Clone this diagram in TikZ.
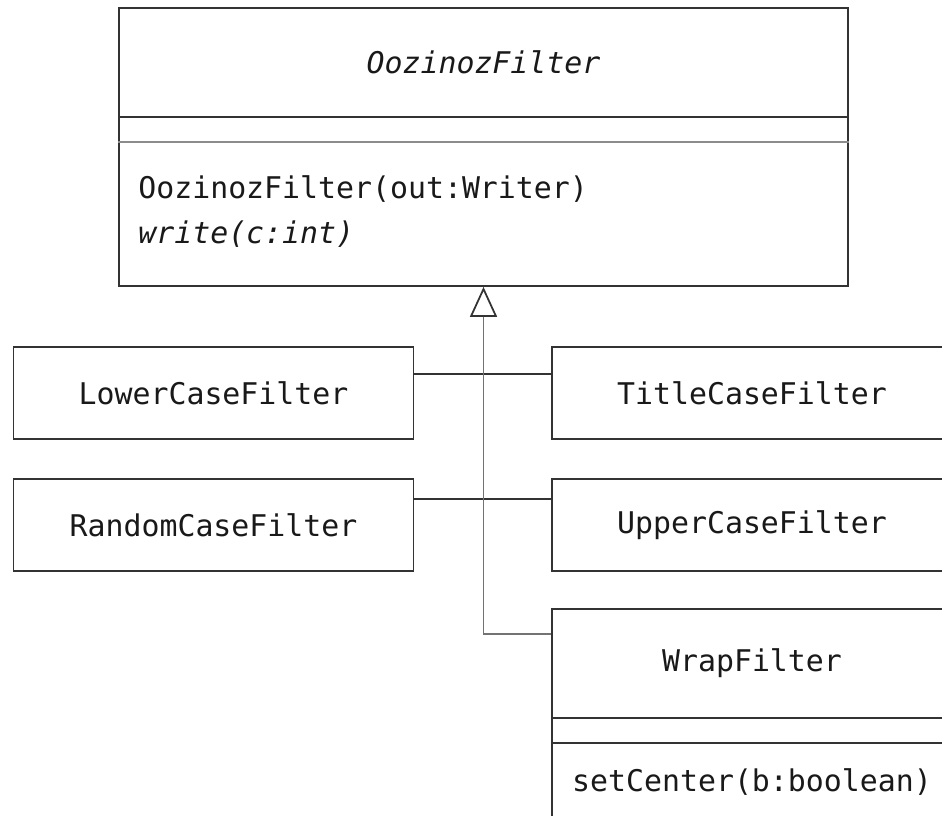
\documentclass[tikz,border=0pt]{standalone}
\usepackage{fontspec}
\setmonofont{DejaVu Sans Mono}[ItalicFont={DejaVu Sans Mono Oblique}]
\usepackage{tikz}
\usetikzlibrary{arrows.meta, positioning}

\begin{document}
\begin{tikzpicture}[x=0.02cm, y=-0.02cm,
    every node/.style={font=\ttfamily\fontsize{17}{22}\selectfont, text=black!90},
    topclass/.style={rectangle, draw=black!80, line width=1pt, minimum width=14.58cm, minimum height=5.56cm, inner sep=0pt},
    classbox/.style={rectangle, draw=black!80, line width=1pt, minimum width=8cm, minimum height=1.84cm, inner sep=0pt},
    wrapbox/.style={rectangle, draw=black!80, line width=1pt, minimum width=8cm, minimum height=4.32cm, inner sep=0pt},
    sep/.style={draw=black!80, line width=1pt},
    link/.style={draw=black!80, line width=1pt},
    inherit/.style={draw=black!55, line width=0.8pt, -{Triangle[open, length=0.6cm, width=0.54cm, line width=1pt, color=black!80]}}]

    \useasboundingbox (0,0) rectangle (942,815);
    \clip (0,0) rectangle (942,815);

    % Abstract filter
    \node [topclass] at (483.5, 147) (filter) {};
    \node at (483.5, 62.5) (filtername) {\itshape OozinozFilter};
    \draw [sep] (filter.west |- 0,117) -- (filter.east |- 0,117);
    \draw [sep, draw=black!45] (filter.west |- 0,142) -- (filter.east |- 0,142);
    \node [anchor=base west, inner sep=0pt] at (138, 198) (ctor) {OozinozFilter(out:Writer)};
    \node [anchor=base west, inner sep=0pt] at (138, 243) (writeop) {\itshape write(c:int)};

    % Subclasses
    \node [classbox] at (213.5, 393) (lower) {LowerCaseFilter};
    \node [classbox] at (752, 393) (title) {TitleCaseFilter};
    \node [classbox] at (213.5, 525) (random) {RandomCaseFilter};
    \node [classbox] at (752, 525) (upper) {UpperCaseFilter};
    \node [wrapbox] at (752, 717) (wrap) {};
    \node at (752, 663.5) (wrapname) {WrapFilter};
    \draw [sep] (wrap.west |- 0,718) -- (wrap.east |- 0,718);
    \draw [sep] (wrap.west |- 0,743) -- (wrap.east |- 0,743);
    \node at (752, 782) (setcenter) {setCenter(b:boolean)};

    % Generalization
    \draw [link] ([yshift=-0.56cm]lower.north east) -- ([yshift=-0.56cm]title.north west);
    \draw [link] ([yshift=-0.42cm]random.north east) -- ([yshift=-0.42cm]upper.north west);
    \draw [inherit] ([yshift=-0.52cm]wrap.north west) -| (filter.south);

\end{tikzpicture}
\end{document}
